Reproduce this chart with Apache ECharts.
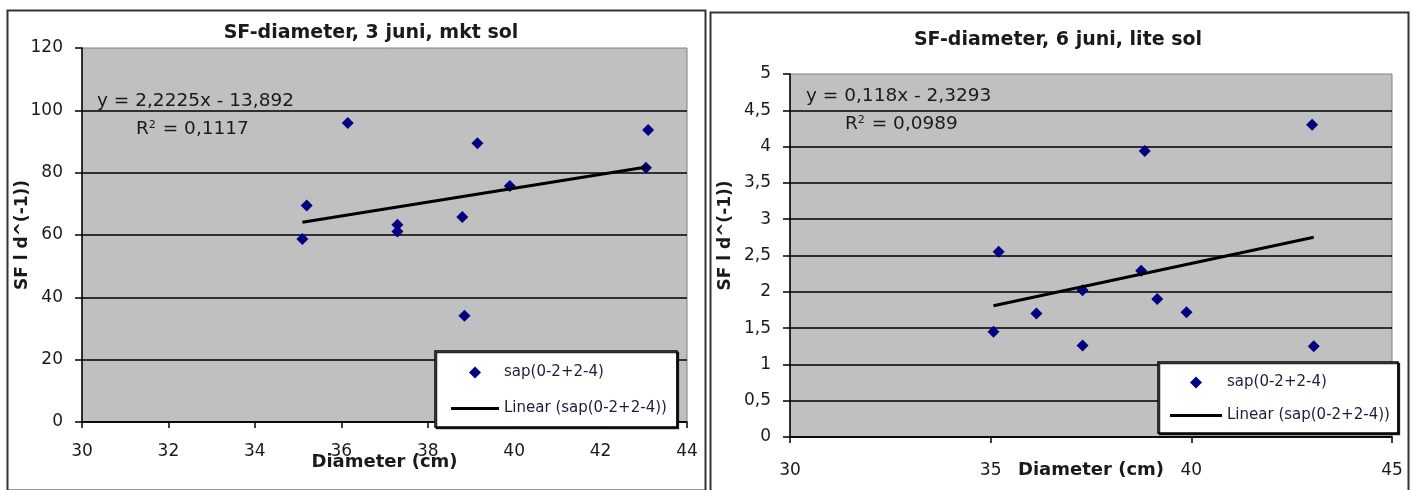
<!DOCTYPE html>
<html>
<head>
<meta charset="utf-8">
<script src="https://cdn.jsdelivr.net/npm/echarts@6/dist/echarts.min.js"></script>
<style>
  html, body { margin: 0; padding: 0; background: #fff; }
  #chart { width: 1413px; height: 490px; }
</style>
</head>
<body>
<div id="chart"></div>
<script>
// Sap flow (SF) against stem diameter, one panel per measuring day.
const diameterJun3 = [35.1, 35.2, 36.15, 37.3, 37.3, 38.8, 38.85, 39.15, 39.9, 43.05, 43.1];
const sapFlowJun3  = [58.7, 69.5, 95.9, 63.3, 61.1, 65.8, 34.1, 89.4, 75.7, 81.6, 93.7];
const fitJun3 = { slope: 2.2225, intercept: -13.892, r2: 0.1117 };

const diameterJun6 = [35.07, 35.2, 36.14, 37.29, 37.29, 38.75, 38.84, 39.15, 39.88, 43.01, 43.05];
const sapFlowJun6  = [1.45, 2.55, 1.70, 2.02, 1.26, 2.29, 3.94, 1.90, 1.72, 4.30, 1.25];
const fitJun6 = { slope: 0.118, intercept: -2.3293, r2: 0.0989 };

const xTicksJun3 = [30, 32, 34, 36, 38, 40, 42, 44];
const yTicksJun3 = [0, 20, 40, 60, 80, 100, 120];
const xTicksJun6 = [30, 35, 40, 45];
const yTicksJun6 = [0, 0.5, 1, 1.5, 2, 2.5, 3, 3.5, 4, 4.5, 5];

const titles = ['SF-diameter, 3 juni, mkt sol', 'SF-diameter, 6 juni, lite sol'];
const xName = 'Diameter (cm)';
const yName = 'SF l d^(-1))';
const pointsName = 'sap(0-2+2-4)';
const fitName = 'Linear (sap(0-2+2-4))';

const FONT = 'DejaVu Sans';
const INK = '#1c1a18';
const comma = v => String(v).replace('.', ',');

function pairs(xs, ys) { return xs.map((x, i) => [x, ys[i]]); }
function fitLine(xs, fit) {
  const lo = Math.min(...xs), hi = Math.max(...xs);
  return [[lo, fit.slope * lo + fit.intercept], [hi, fit.slope * hi + fit.intercept]];
}
function equation(fit) {
  const sign = fit.intercept < 0 ? ' - ' : ' + ';
  return 'y = ' + comma(fit.slope) + 'x' + sign + comma(Math.abs(fit.intercept));
}

function xAxis(grid, ticks, labelMargin, nameGap) {
  return {
    type: 'value', gridIndex: grid,
    min: ticks[0], max: ticks[ticks.length - 1], interval: ticks[1] - ticks[0],
    name: xName, nameLocation: 'middle', nameGap: nameGap, nameMoveOverlap: false,
    nameTextStyle: { fontFamily: FONT, fontWeight: 'bold', fontSize: 18, color: INK },
    axisLine: { show: true, onZero: false, lineStyle: { color: '#000', width: 1.5 } },
    axisTick: { show: true, length: 6, lineStyle: { color: '#000', width: 1.5 } },
    axisLabel: { margin: labelMargin, fontFamily: FONT, fontSize: 17, color: INK,
                 showMinLabel: true, showMaxLabel: true, formatter: comma },
    splitLine: { show: false }
  };
}
function yAxis(grid, ticks, nameGap, namePad) {
  return {
    type: 'value', gridIndex: grid,
    min: ticks[0], max: ticks[ticks.length - 1], interval: ticks[1] - ticks[0],
    name: yName, nameLocation: 'middle', nameRotate: 90, nameGap: nameGap, nameMoveOverlap: false,
    nameTextStyle: { fontFamily: FONT, fontWeight: 'bold', fontSize: 17, color: INK, padding: namePad },
    axisLine: { show: true, onZero: false, lineStyle: { color: '#000', width: 1.5 } },
    axisTick: { show: true, length: 7, lineStyle: { color: '#000', width: 1.5 } },
    axisLabel: { margin: 19, fontFamily: FONT, fontSize: 17, color: INK,
                 showMinLabel: true, showMaxLabel: true, formatter: comma },
    splitLine: { show: true, showMaxLine: false, lineStyle: { color: '#000', width: 1.5 } }
  };
}
function legend(left, top, pad, itemWidth, gap) {
  return {
    orient: 'vertical', left: left, top: top, padding: pad,
    data: [
      { name: pointsName, icon: 'path://M5,0L10,5L5,10L0,5Z' },
      { name: fitName, icon: 'path://M0,0H' + itemWidth + 'V3H0Z' }
    ],
    symbolKeepAspect: true,
    itemWidth: itemWidth, itemHeight: 12, itemGap: gap - 1,
    backgroundColor: '#fff', borderColor: '#000', borderWidth: 1.5,
    shadowColor: 'rgba(0,0,0,0.85)', shadowOffsetX: 1.5, shadowOffsetY: 1.5, shadowBlur: 0,
    selectedMode: false,
    textStyle: { fontFamily: FONT, fontSize: 15, color: '#1d1c3a' }
  };
}
function eqText(x, y, gap, fit) {
  return [
    { type: 'text', left: x, top: y,
      style: { text: equation(fit), fontFamily: FONT, fontSize: 18.5, fill: INK } },
    { type: 'text', left: x + 39, top: y + gap,
      style: { text: 'R{sup|2} = ' + comma(fit.r2), fontFamily: FONT, fontSize: 18.5, fill: INK,
               rich: { sup: { fontFamily: FONT, fontSize: 11, fill: INK, verticalAlign: 'top', padding: [0, 1, 8, 0] } } } }
  ];
}

const chart = echarts.init(document.getElementById('chart'), null, { renderer: 'canvas' });
chart.setOption({
  backgroundColor: '#fff',
  animation: false,
  title: [
    { text: titles[0], left: 371, top: 24, textAlign: 'center', padding: 0,
      textStyle: { fontFamily: FONT, fontWeight: 'bold', fontSize: 19, color: INK } },
    { text: titles[1], left: 1058, top: 31, textAlign: 'center', padding: 0,
      textStyle: { fontFamily: FONT, fontWeight: 'bold', fontSize: 19, color: INK } }
  ],
  grid: [
    { left: 82, top: 48, width: 605, height: 374, show: true, outerBoundsMode: 'none',
      backgroundColor: '#c0c0c0', borderColor: '#808080', borderWidth: 1 },
    { left: 790, top: 74, width: 602, height: 363, show: true, outerBoundsMode: 'none',
      backgroundColor: '#c0c0c0', borderColor: '#808080', borderWidth: 1 }
  ],
  xAxis: [xAxis(0, xTicksJun3, 21, 31), xAxis(1, xTicksJun6, 25, 24)],
  yAxis: [yAxis(0, yTicksJun3, 51, [0, 0, 0, 0]), yAxis(1, yTicksJun6, 56, [0, 0, 0, 40])],
  legend: [
    legend(435, 351, [14, 10, 11, 16], 48, 22),
    legend(1158, 362, [13, 8, 10, 12], 52, 19)
  ],
  graphic: [
    { type: 'rect', left: 5, top: 8, z: 0, silent: true,
      shape: { width: 698, height: 480 }, style: { fill: 'none', stroke: '#333', lineWidth: 2 } },
    { type: 'rect', left: 708, top: 10, z: 0, silent: true,
      shape: { width: 698, height: 500 }, style: { fill: 'none', stroke: '#333', lineWidth: 2 } },
    ...eqText(97, 92, 28, fitJun3),
    ...eqText(806, 87, 28, fitJun6)
  ],
  series: [
    { name: pointsName, type: 'scatter', xAxisIndex: 0, yAxisIndex: 0,
      data: pairs(diameterJun3, sapFlowJun3), symbol: 'diamond', symbolSize: 12,
      itemStyle: { color: '#000080', opacity: 1 } },
    { name: fitName, type: 'line', xAxisIndex: 0, yAxisIndex: 0,
      data: fitLine(diameterJun3, fitJun3), symbol: 'none',
      lineStyle: { color: '#000', width: 3 }, itemStyle: { color: '#000' } },
    { name: pointsName, type: 'scatter', xAxisIndex: 1, yAxisIndex: 1,
      data: pairs(diameterJun6, sapFlowJun6), symbol: 'diamond', symbolSize: 12,
      itemStyle: { color: '#000080', opacity: 1 } },
    { name: fitName, type: 'line', xAxisIndex: 1, yAxisIndex: 1,
      data: fitLine(diameterJun6, fitJun6), symbol: 'none',
      lineStyle: { color: '#000', width: 3 }, itemStyle: { color: '#000' } }
  ]
});
</script>
</body>
</html>
